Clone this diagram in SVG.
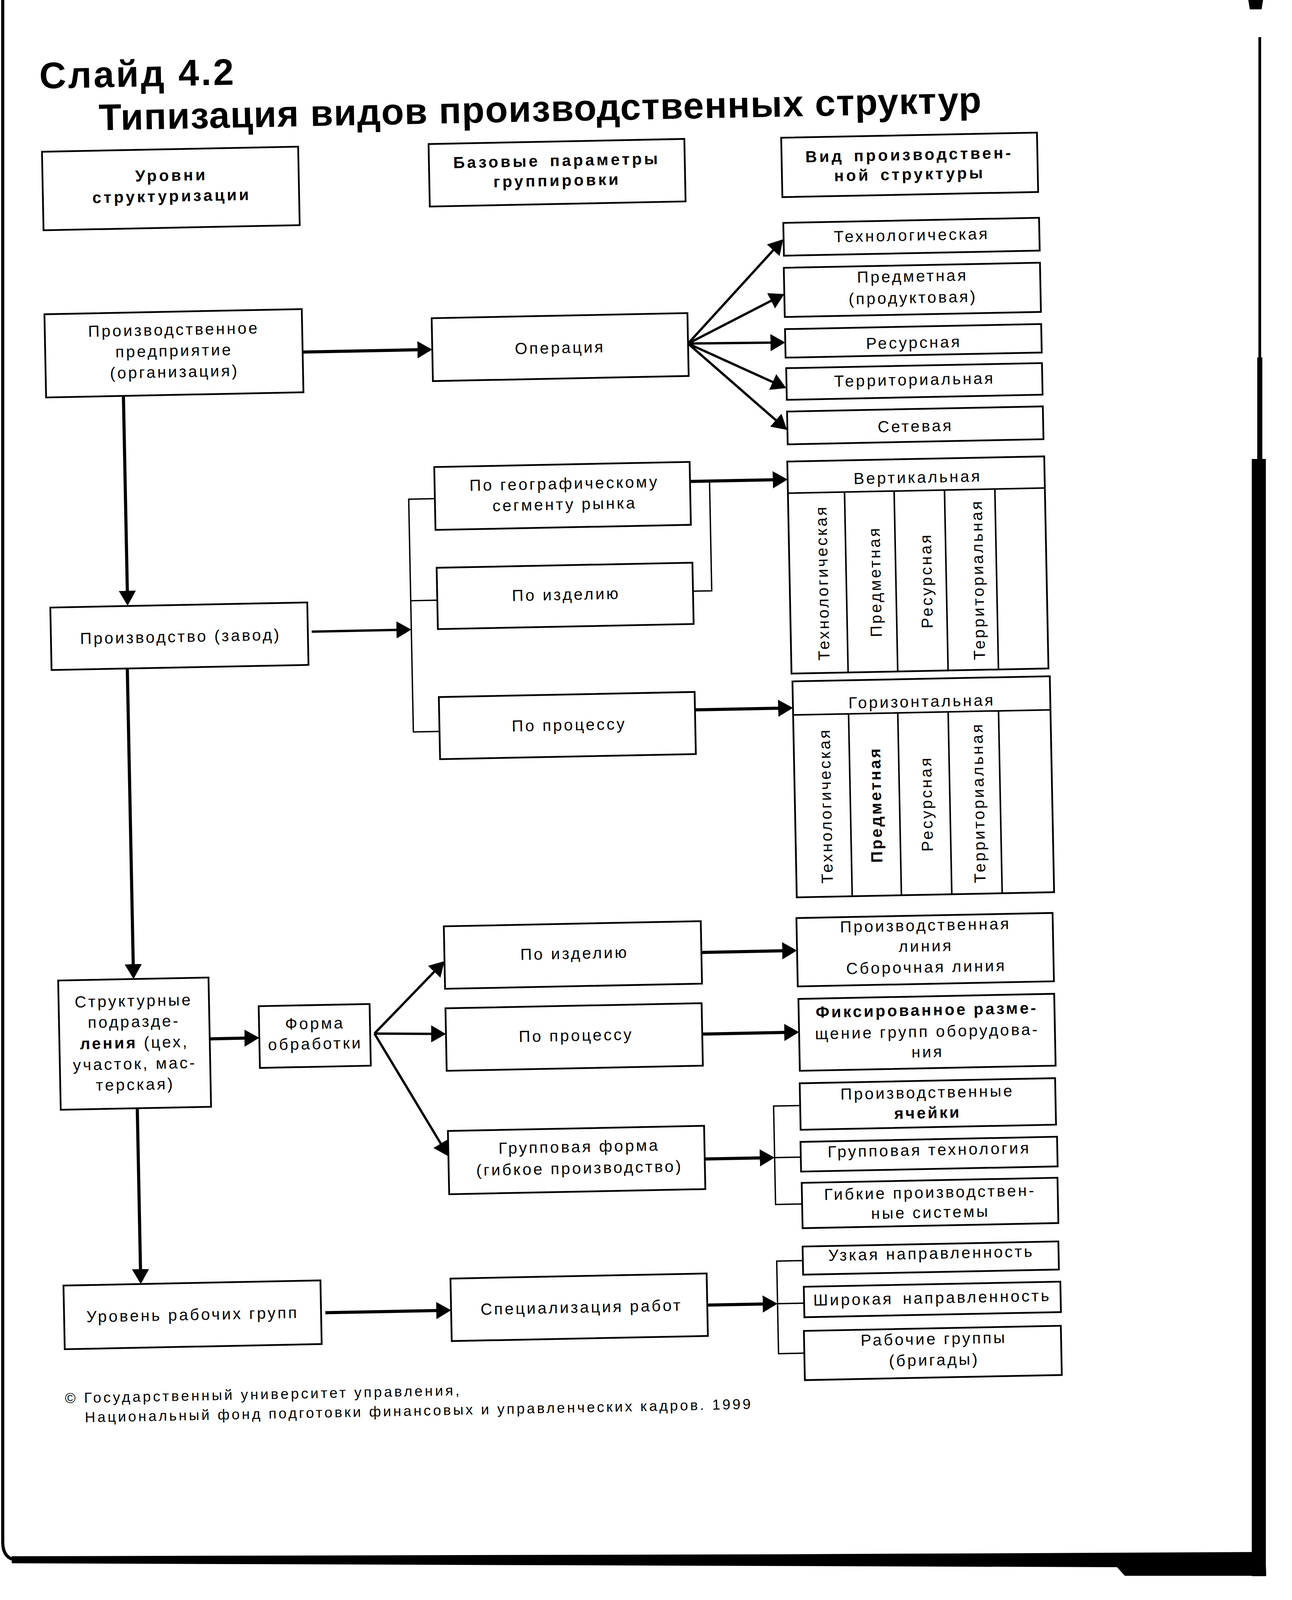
<svg xmlns="http://www.w3.org/2000/svg" width="3308" height="4672" viewBox="0 0 3308 4672">
<style>
.box{fill:#fff;stroke:#000;stroke-width:4.5}
.ln{fill:none;stroke:#000;stroke-width:4}
.t{font-family:"Liberation Sans",Arial,Helvetica,sans-serif;font-size:41px;letter-spacing:5px;text-anchor:middle;fill:#000}
.b{font-weight:bold;letter-spacing:6px}
.bw{font-weight:bold}
.ttl{font-family:"Liberation Sans",Arial,Helvetica,sans-serif;font-weight:bold;font-size:95px;fill:#000}
.ft{font-family:"Liberation Sans",Arial,Helvetica,sans-serif;font-size:37px;fill:#000}
.ar{fill:none;stroke:#000;stroke-width:8;marker-end:url(#ah)}
.ar6{fill:none;stroke:#000;stroke-width:6;marker-end:url(#ah)}
.br{fill:none;stroke:#000;stroke-width:3.5}
.edge{fill:#000}
</style>
<defs>
<marker id="ah" viewBox="0 0 38 44" refX="14" refY="22" markerWidth="38" markerHeight="44" markerUnits="userSpaceOnUse" orient="auto">
<path d="M0,0 L38,22 L0,44 z" fill="#000"/>
</marker>
</defs>
<rect x="0" y="0" width="3308" height="4672" fill="#fff"/>
<g id="page-edges">
<path d="M7,0 V3950 Q8,3992 45,3994" fill="none" stroke="#000" stroke-width="8"/>
<path class="edge" d="M30,3984 L2000,3979 L3240,3973 L3242,4034 L2880,4034 L2860,4012 L30,4002 z"/>
<rect class="edge" x="3222" y="95" width="7" height="820"/>
<rect class="edge" x="3219" y="915" width="13" height="260"/>
<rect class="edge" x="3205" y="1175" width="36" height="2860"/>
<path class="edge" d="M3196,0 L3234,0 L3230,24 L3200,24 z"/>
</g>
<g id="diagram" transform="rotate(-1.146 1650 2000)">
<g id="title">
<text class="ttl" x="137" y="196" textLength="498" lengthAdjust="spacing">Слайд 4.2</text>
<text class="ttl" x="287" y="306" textLength="2260" lengthAdjust="spacing">Типизация видов производственных структур</text>
</g>
<g id="connectors">
<path class="ar" d="M797,884 H1105"/>
<path class="ar" d="M336,987 V1500"/>
<path class="ar6" d="M806,1600 H1037"/>
<path class="ar" d="M1782,1235 H2008"/>
<path class="ar" d="M1784,1820 H2010"/>
<path class="ar" d="M332,1685 V2456"/>
<path class="ar" d="M524,2637 H627"/>
<path class="ar" d="M335,2812 V3237"/>
<path class="ar" d="M806,3344 H1104"/>
<path class="ar" d="M1788,2441 H2008"/>
<path class="ar" d="M1786,2650 H2009"/>
<path class="ar" d="M1785,2970 H1940"/>
<path class="ar" d="M1785,3344 H1940"/>
<path class="ar6" d="M1784,882 L2016.5,637.4"/>
<path class="ar6" d="M1784,882 L2011.5,770.6"/>
<path class="ar6" d="M1784,882 L2009,884"/>
<path class="ar6" d="M1784,882 L2011.4,990.7"/>
<path class="ar6" d="M1784,882 L2015.2,1091.9"/>
<path class="ar6" d="M946,2632 L1112,2467"/>
<path class="ar6" d="M946,2632 L1105,2636"/>
<path class="ar6" d="M946,2632 L1117,2929"/>
<path class="br" d="M1128,1266 H1061 V1862 H1128 M1061,1526 H1129"/>
<path class="br" d="M1784,1516 H1832 V1235"/>
<path class="br" d="M2032,2838 H1964 V3090 H2032 M1964,2970 H2032"/>
<path class="br" d="M2031,3235 H1964 V3472 H2030 M1964,3344 H2032"/>
</g>
<g id="n-levels"><rect class="box" x="140" y="358" width="656" height="201"/>
<text class="t b" x="470" y="439">Уровни</text><text class="t b" x="470" y="492">структуризации</text></g>
<g id="n-params"><rect class="box" x="1130" y="358" width="655" height="160"/>
<text class="t b" x="1457" y="421" word-spacing="8">Базовые параметры</text><text class="t b" x="1457" y="472">группировки</text></g>
<g id="n-kind"><rect class="box" x="2033" y="360" width="655" height="152"/>
<text class="t b" x="2360" y="424" word-spacing="8">Вид производствен-</text><text class="t b" x="2360" y="474" word-spacing="8">ной структуры</text></g>
<g id="n-tech"><rect class="box" x="2034" y="578" width="655" height="84"/><text class="t" x="2362" y="630">Технологическая</text></g>
<g id="n-subj"><rect class="box" x="2033" y="693" width="656" height="126"/><text class="t" x="2362" y="735">Предметная</text><text class="t" x="2362" y="790">(продуктовая)</text></g>
<g id="n-res"><rect class="box" x="2033" y="850" width="656" height="73"/><text class="t" x="2362" y="905">Ресурсная</text></g>
<g id="n-terr"><rect class="box" x="2034" y="950" width="655" height="81"/><text class="t" x="2362" y="1000">Территориальная</text></g>
<g id="n-net"><rect class="box" x="2034" y="1061" width="655" height="84"/><text class="t" x="2362" y="1119">Сетевая</text></g>
<g id="n-enterprise"><rect class="box" x="138" y="774" width="659" height="213"/>
<text class="t" x="468" y="834">Производственное</text><text class="t" x="468" y="888">предприятие</text><text class="t" x="468" y="942">(организация)</text></g>
<g id="n-operation"><rect class="box" x="1129" y="804" width="655" height="161"/><text class="t" x="1456" y="900">Операция</text></g>
<g id="n-plant"><rect class="box" x="138" y="1525" width="658" height="160"/><text class="t" x="470" y="1620">Производство (завод)</text></g>
<g id="n-geo"><rect class="box" x="1128" y="1185" width="654" height="161"/>
<text class="t" x="1460" y="1248">По географическому</text><text class="t" x="1460" y="1301">сегменту рынка</text></g>
<g id="n-product1"><rect class="box" x="1129" y="1443" width="655" height="157"/><text class="t" x="1459" y="1532">По изделию</text></g>
<g id="n-process1"><rect class="box" x="1128" y="1774" width="655" height="159"/><text class="t" x="1460" y="1866">По процессу</text></g>
<g id="n-vertical"><rect class="box" x="2032" y="1189" width="658" height="543"/>
<path class="ln" d="M2032,1270 H2690 M2177,1270 V1732 M2304,1270 V1732 M2433,1270 V1732 M2562,1270 V1732"/>
<text class="t" x="2365" y="1250">Вертикальная</text>
<text class="t" transform="translate(2130,1501) rotate(-90)">Технологическая</text>
<text class="t" transform="translate(2265,1501) rotate(-90)">Предметная</text>
<text class="t" transform="translate(2396,1501) rotate(-90)">Ресурсная</text>
<text class="t" transform="translate(2528,1501) rotate(-90)">Территориальная</text></g>
<g id="n-horizontal"><rect class="box" x="2034" y="1752" width="659" height="553"/>
<path class="ln" d="M2034,1838 H2693 M2176,1838 V2305 M2302,1838 V2305 M2431,1838 V2305 M2560,1838 V2305"/>
<text class="t" x="2364" y="1824">Горизонтальная</text>
<text class="t" transform="translate(2127,2072) rotate(-90)">Технологическая</text>
<text class="t bw" transform="translate(2255,2072) rotate(-90)">Предметная</text>
<text class="t" transform="translate(2385,2072) rotate(-90)">Ресурсная</text>
<text class="t" transform="translate(2518,2072) rotate(-90)">Территориальная</text></g>
<g id="n-units"><rect class="box" x="139" y="2480" width="385" height="331"/>
<text class="t" x="331" y="2550" letter-spacing="4">Структурные</text><text class="t" x="331" y="2603" letter-spacing="4">подразде-</text>
<text class="t" x="331" y="2657" letter-spacing="4"><tspan font-weight="bold">ления</tspan> (цех,</text><text class="t" x="331" y="2711" letter-spacing="4">участок, мас-</text>
<text class="t" x="331" y="2764" letter-spacing="4">терская)</text></g>
<g id="n-form"><rect class="box" x="651" y="2556" width="284" height="158"/>
<text class="t" x="794" y="2617">Форма</text><text class="t" x="794" y="2669" letter-spacing="3">обработки</text></g>
<g id="n-product2"><rect class="box" x="1129" y="2361" width="658" height="160"/><text class="t" x="1462" y="2451">По изделию</text></g>
<g id="n-process2"><rect class="box" x="1129" y="2571" width="656" height="160"/><text class="t" x="1462" y="2661">По процессу</text></g>
<g id="n-group"><rect class="box" x="1129" y="2885" width="656" height="162"/>
<text class="t" x="1464" y="2946">Групповая форма</text><text class="t" x="1464" y="3001">(гибкое производство)</text></g>
<g id="n-line"><rect class="box" x="2032" y="2358" width="656" height="175"/>
<text class="t" x="2362" y="2397">Производственная</text><text class="t" x="2362" y="2450">линия</text><text class="t" x="2362" y="2504">Сборочная линия</text></g>
<g id="n-fixed"><rect class="box" x="2033" y="2565" width="655" height="184"/>
<text class="t bw" x="2361" y="2614">Фиксированное разме-</text><text class="t" x="2361" y="2669">щение групп оборудова-</text><text class="t" x="2361" y="2721">ния</text></g>
<g id="n-cells"><rect class="box" x="2032" y="2781" width="654" height="119"/>
<text class="t" x="2358" y="2825">Производственные</text><text class="t bw" x="2358" y="2877">ячейки</text></g>
<g id="n-grouptech"><rect class="box" x="2031" y="2931" width="657" height="76"/><text class="t" x="2360" y="2972">Групповая технология</text></g>
<g id="n-flex"><rect class="box" x="2032" y="3036" width="655" height="116"/>
<text class="t" x="2360" y="3081">Гибкие производствен-</text><text class="t" x="2360" y="3132">ные системы</text></g>
<g id="n-workgroups"><rect class="box" x="137" y="3261" width="658" height="163"/><text class="t" x="466" y="3356">Уровень рабочих групп</text></g>
<g id="n-spec"><rect class="box" x="1128" y="3263" width="656" height="160"/><text class="t" x="1462" y="3357">Специализация работ</text></g>
<g id="n-narrow"><rect class="box" x="2031" y="3199" width="655" height="72"/><text class="t" x="2360" y="3237">Узкая направленность</text></g>
<g id="n-wide"><rect class="box" x="2032" y="3302" width="657" height="78"/><text class="t" x="2360" y="3351" word-spacing="8">Широкая направленность</text></g>
<g id="n-brigades"><rect class="box" x="2030" y="3415" width="658" height="126"/>
<text class="t" x="2362" y="3456">Рабочие группы</text><text class="t" x="2362" y="3510">(бригады)</text></g>
<g id="footer">
<text class="ft" x="135" y="3562" textLength="1010" lengthAdjust="spacing">© Государственный университет управления,</text>
<text class="ft" x="185" y="3612" textLength="1705" lengthAdjust="spacing">Национальный фонд подготовки финансовых и управленческих кадров. 1999</text>
</g>
</g>
</svg>
